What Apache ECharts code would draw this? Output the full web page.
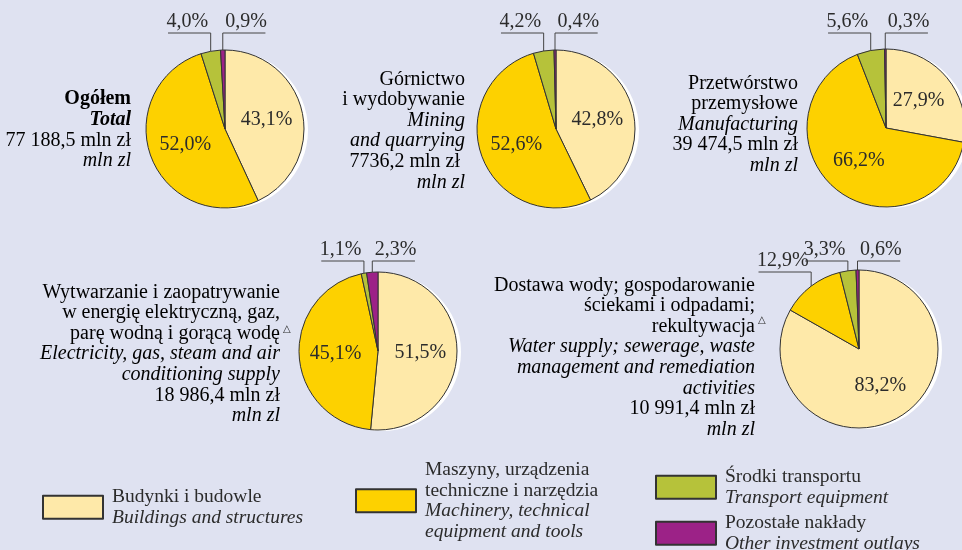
<!DOCTYPE html>
<html>
<head>
<meta charset="utf-8">
<style>
  html, body { margin: 0; padding: 0; background: #dfe2f1; }
  #main { width: 962px; height: 550px; }
</style>
<script src="https://cdn.jsdelivr.net/npm/echarts@6/dist/echarts.min.js"></script>
</head>
<body>
<div id="main"></div>
<script>
'use strict';

// kategorie nakładów
var categories = ['Budynki i budowle', 'Maszyny, urządzenia', 'Środki transportu', 'Pozostałe nakłady'];

// udział procentowy w każdej sekcji
var totalValues = [43.1, 52.0, 4.0, 0.9];
var miningValues = [42.8, 52.6, 4.2, 0.4];
var manufacturingValues = [27.9, 66.2, 5.6, 0.3];
var energyValues = [51.5, 45.1, 1.1, 2.3];
var waterValues = [83.2, 12.9, 3.3, 0.6];

var colors = ['#fee9a9', '#fdd100', '#b6c23a', '#9c2287'];
var FONT = '"Liberation Serif", "DejaVu Serif", serif';

// rozmieszczenie wykresów
var pies = [
    { values: totalValues, center: [225, 129], lineY: 33 },
    { values: miningValues, center: [556, 129], lineY: 33 },
    { values: manufacturingValues, center: [886, 128], lineY: 33 },
    { values: energyValues, center: [378, 351], lineY: 261 },
    { values: waterValues, center: [859, 349], lineY: 261 }
];

function fmt(v) {
    return v.toFixed(1).replace('.', ',') + '%';
}

function buildData(values) {
    return values.map(function(v, i) {
        var item = { name: categories[i], value: v };
        if (v < 15) {
            item.label = { position: 'outside' };
            item.labelLine = { show: true };
        }
        return item;
    });
}

function makeLayout(pie) {
    var vals = pie.values;
    var last = vals.length - 1;
    return function(params) {
        var i = params.dataIndex;
        if (vals[i] >= 15 || !params.labelLinePoints) return {};
        var p0 = params.labelLinePoints[0];
        var w = params.labelRect.width;
        var dir = i === last ? 1 : -1;
        var y = pie.lineY;
        if (dir < 0) {
            // kolejne etykiety z lewej schodzą niżej
            var rank = 0;
            for (var k = i + 1; k < last; k++) {
                if (vals[k] < 15) rank++;
            }
            y += rank * 11;
        }
        var x0 = p0[0];
        var x1 = x0 + dir * (w + 1);
        return {
            x: (x0 + x1) / 2 + dir * 2,
            y: y - 1,
            align: 'center',
            verticalAlign: 'bottom',
            labelLinePoints: [[x0, p0[1]], [x0, y], [x1, y]]
        };
    };
}

var series = [];
pies.forEach(function(pie) {
    // biały cień pod kołem
    series.push({
        type: 'pie',
        silent: true,
        radius: 79,
        center: [pie.center[0] + 4, pie.center[1] + 1],
        label: { show: false },
        labelLine: { show: false },
        itemStyle: { color: '#ffffff', borderWidth: 0 },
        data: [{ name: '_shadow', value: 1 }],
        z: 1
    });
    series.push({
        type: 'pie',
        radius: 79,
        center: pie.center,
        startAngle: 90,
        clockwise: true,
        animation: false,
        z: 2,
        itemStyle: { borderColor: '#333333', borderWidth: 1 },
        label: {
            position: 'inside',
            formatter: function(p) { return fmt(p.value); },
            color: '#2b2b2b',
            fontFamily: FONT,
            fontSize: 20
        },
        labelLine: {
            show: false,
            lineStyle: { color: '#444444', width: 1 }
        },
        labelLayout: makeLayout(pie),
        data: buildData(pie.values)
    });
});

var richSide = {
    n: { fontFamily: FONT, fontSize: 20, color: '#2b2b2b', lineHeight: 20.6 },
    i: { fontFamily: FONT, fontSize: 20, color: '#2b2b2b', fontStyle: 'italic', lineHeight: 20.6 },
    b: { fontFamily: FONT, fontSize: 20, color: '#2b2b2b', fontWeight: 'bold', lineHeight: 20.6 },
    bi: { fontFamily: FONT, fontSize: 20, color: '#2b2b2b', fontWeight: 'bold', fontStyle: 'italic', lineHeight: 20.6 }
};

function sideText(x, y, text) {
    return {
        type: 'text',
        x: x,
        y: y,
        style: {
            text: text,
            rich: richSide,
            align: 'right',
            verticalAlign: 'top'
        }
    };
}

function triangle(x, y) {
    return {
        type: 'text',
        x: x,
        y: y,
        style: { text: '△', fontSize: 10, fill: '#2b2b2b', fontFamily: '"DejaVu Sans", sans-serif' }
    };
}

var graphics = [
    sideText(131, 89, '{b|Ogółem}\n{bi|Total}\n{n|77 188,5 mln zł}\n{i|mln zl}'),
    sideText(465, 69, '{n|Górnictwo}\n{n|i wydobywanie}\n{i|Mining}\n{i|and quarrying}\n{n|7736,2 mln zł }\n{i|mln zl}'),
    sideText(798, 73, '{n|Przetwórstwo}\n{n|przemysłowe}\n{i|Manufacturing}\n{n|39 474,5 mln zł}\n{i|mln zl}'),
    sideText(280, 282, '{n|Wytwarzanie i zaopatrywanie}\n{n|w energię elektryczną, gaz,}\n{n|parę wodną i gorącą wodę}\n{i|Electricity, gas, steam and air}\n{i|conditioning supply}\n{n|18 986,4 mln zł}\n{i|mln zl}'),
    sideText(755, 275, '{n|Dostawa wody; gospodarowanie}\n{n|ściekami i odpadami;}\n{n|rekultywacja}\n{i|Water supply; sewerage, waste}\n{i|management and remediation}\n{i|activities}\n{n|10 991,4 mln zł}\n{i|mln zl}'),
    triangle(283, 324),
    triangle(758, 315)
];

var legendText = {
    'Budynki i budowle': '{n|Budynki i budowle}\n{i|Buildings and structures}',
    'Maszyny, urządzenia': '{n|Maszyny, urządzenia}\n{n|techniczne i narzędzia}\n{i|Machinery, technical}\n{i|equipment and tools}',
    'Środki transportu': '{n|Środki transportu}\n{i|Transport equipment}',
    'Pozostałe nakłady': '{n|Pozostałe nakłady}\n{i|Other investment outlays}'
};

var richLegend = {
    n: { fontFamily: FONT, fontSize: 19.5, color: '#2b2b2b', lineHeight: 20.5 },
    i: { fontFamily: FONT, fontSize: 19.5, color: '#2b2b2b', fontStyle: 'italic', lineHeight: 20.5 }
};

function legendFor(name, left, top) {
    return {
        data: [name],
        left: left,
        top: top,
        padding: 0,
        itemWidth: 60,
        itemHeight: 23,
        icon: 'rect',
        selectedMode: false,
        formatter: function(n) { return legendText[n]; },
        textStyle: { rich: richLegend, padding: [0, 0, 0, 4] }
    };
}

var option = {
    backgroundColor: '#dfe2f1',
    color: colors,
    animation: false,
    legend: [
        legendFor(categories[0], 42, 487),
        legendFor(categories[1], 355, 460),
        legendFor(categories[2], 655, 467),
        legendFor(categories[3], 655, 513)
    ],
    graphic: graphics,
    series: series
};

var myChart = echarts.init(document.getElementById('main'));
myChart.setOption(option);
</script>
</body>
</html>
